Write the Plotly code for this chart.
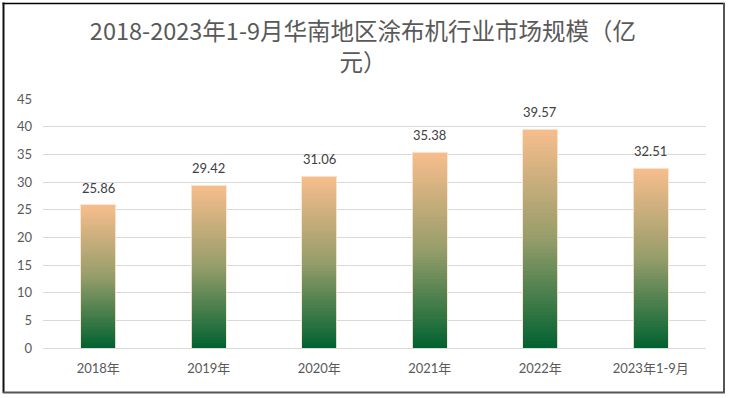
import plotly.graph_objects as go

categories = ["2018年", "2019年", "2020年", "2021年", "2022年", "2023年1-9月"]
values = [25.86, 29.42, 31.06, 35.38, 39.57, 32.51]
value_labels = ["25.86", "29.42", "31.06", "35.38", "39.57", "32.51"]
title_text = "2018-2023年1-9月华南地区涂布机行业市场规模（亿<br>元）"

# gradient stops (fraction from bar bottom -> rgb)
stops = [(0.0, (0, 98, 48)), (0.5, (150, 157, 106)), (1.0, (248, 190, 141))]
N = 60

def color_at(f):
    for (f0, c0), (f1, c1) in zip(stops[:-1], stops[1:]):
        if f0 <= f <= f1:
            t = (f - f0) / (f1 - f0)
            c = [round(a + (b - a) * t) for a, b in zip(c0, c1)]
            return f"rgb({c[0]},{c[1]},{c[2]})"
    c = stops[-1][1]
    return f"rgb({c[0]},{c[1]},{c[2]})"

fig = go.Figure()
for i in range(N):
    f = (i + 0.5) / N
    fig.add_trace(go.Bar(
        x=categories, y=[v / N for v in values],
        marker=dict(color=color_at(f), line=dict(width=0)),
        showlegend=False, hoverinfo="skip"))

# light outline over bars
fig.add_trace(go.Bar(
    x=categories, y=values, xaxis="x2",
    marker=dict(color="rgba(0,0,0,0)", line=dict(color="rgba(252,228,208,0.9)", width=1)),
    showlegend=False, hoverinfo="skip"))

for c, v, t in zip(categories, values, value_labels):
    fig.add_annotation(x=c, y=v, text=t, showarrow=False, yanchor="bottom", yshift=7,
                       font=dict(size=13, color="#404040", family="Lato, Noto Sans CJK SC"))

W, H = 734, 398
L, R, T, B = 43, 28, 99, 50
pw, ph = W - L - R, H - T - B

def px(x):
    return (x - L) / pw

def py(y):
    return (H - B - y) / ph

shapes = [
    dict(type="line", xref="paper", yref="paper", x0=px(2.5), x1=px(725), y0=py(3.5), y1=py(3.5),
         line=dict(color="#000000", width=1.5)),
    dict(type="line", xref="paper", yref="paper", x0=px(3.5), x1=px(3.5), y0=py(2.5), y1=py(393),
         line=dict(color="#111111", width=2)),
    dict(type="line", xref="paper", yref="paper", x0=px(724), x1=px(724), y0=py(3), y1=py(393),
         line=dict(color="#555555", width=2)),
    dict(type="line", xref="paper", yref="paper", x0=px(3), x1=px(725), y0=py(392.5), y1=py(392.5),
         line=dict(color="#555555", width=2)),
]

fig.update_layout(
    width=W, height=H,
    margin=dict(l=L, r=R, t=T, b=B),
    paper_bgcolor="white", plot_bgcolor="white",
    barmode="stack", bargap=0.683,
    title=dict(text=title_text, x=0.4945, xanchor="center", y=0.899, yanchor="top",
               font=dict(size=23.5, color="#595959", family="Noto Sans CJK SC")),
    xaxis=dict(type="category", showgrid=False, showline=False, ticks="",
               ticklabelstandoff=11,
               tickfont=dict(size=13, color="#595959", family="Lato, Noto Sans CJK SC")),
    xaxis2=dict(type="category", overlaying="x", matches="x", visible=False),
    yaxis=dict(range=[0, 45], dtick=5, showgrid=True, gridcolor="#d9d9d9", gridwidth=1,
               zeroline=True, zerolinecolor="#d9d9d9", zerolinewidth=1, showline=False,
               ticklabelstandoff=10,
               tickfont=dict(size=13, color="#595959", family="Lato, Noto Sans CJK SC")),
    shapes=shapes,
    font=dict(family="Lato, Noto Sans CJK SC"),
)

fig.write_html("out.html", config={"displayModeBar": False},
               post_script="document.body.style.margin='0';document.body.style.overflow='hidden';")
